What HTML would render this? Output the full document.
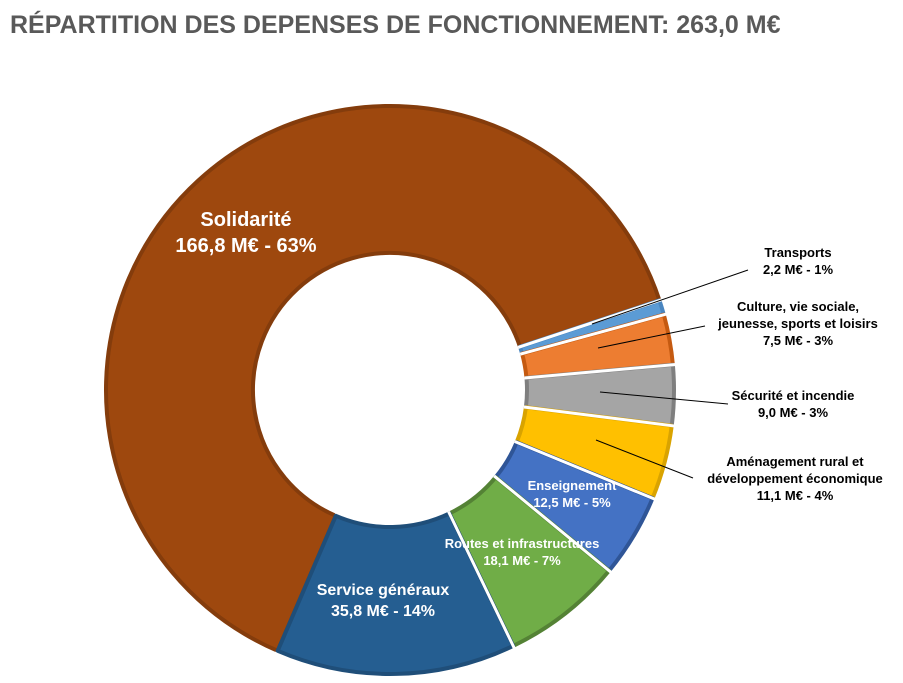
<!DOCTYPE html>
<html><head><meta charset="utf-8"><style>
body{margin:0;background:#fff;}
svg{display:block;font-family:"Liberation Sans",Calibri,sans-serif;}
</style></head><body>
<svg id="chart" width="903" height="683" viewBox="0 0 903 683">
<text x="10" y="33" font-size="25" font-weight="bold" fill="#595959">RÉPARTITION DES DEPENSES DE FONCTIONNEMENT: 263,0 M€</text>
<g id="slices"></g>
<g id="labels"></g>
</svg>
<script>
const categories=["Solidarité","Transports","Culture, vie sociale, jeunesse, sports et loisirs","Sécurité et incendie","Aménagement rural et développement économique","Enseignement","Routes et infrastructures","Service généraux"];
const values=[166.8,2.2,7.5,9.0,11.1,12.5,18.1,35.8];
const valueLabels=["166,8 M€ - 63%","2,2 M€ - 1%","7,5 M€ - 3%","9,0 M€ - 3%","11,1 M€ - 4%","12,5 M€ - 5%","18,1 M€ - 7%","35,8 M€ - 14%"];
const fills=["#9E480E","#5B9BD5","#ED7D31","#A5A5A5","#FFC000","#4472C4","#70AD47","#255E91"];
const strokes=["#843C0C","#4A86C0","#C55A11","#7F7F7F","#D9A300","#2F5597","#548235","#1F4E79"];
const cx=390,cy=390,R=284,r0=137,startDeg=203.3;
const ns="http://www.w3.org/2000/svg";
const total=values.reduce((a,b)=>a+b,0);
function pt(deg,rad){const a=deg*Math.PI/180;return [cx+rad*Math.sin(a),cy-rad*Math.cos(a)];}
const g=document.getElementById('slices');
let acc=startDeg;
values.forEach((v,i)=>{
  const sweep=v/total*360,a0=acc,a1=acc+sweep;acc=a1;
  const large=sweep>180?1:0;
  const p0=pt(a0,R),p1=pt(a1,R),q1=pt(a1,r0),q0=pt(a0,r0);
  const d=`M${p0[0]},${p0[1]} A${R},${R} 0 ${large} 1 ${p1[0]},${p1[1]} L${q1[0]},${q1[1]} A${r0},${r0} 0 ${large} 0 ${q0[0]},${q0[1]} Z`;
  const p=document.createElementNS(ns,'path');
  p.setAttribute('d',d);p.setAttribute('fill',fills[i]);p.setAttribute('stroke',strokes[i]);p.setAttribute('stroke-width','4');p.setAttribute('stroke-linejoin','round');
  
  
  g.appendChild(p);
  const s=document.createElementNS(ns,'path');
  s.setAttribute('d',`M${pt(a0,r0-2).join(',')} L${pt(a0,R+3).join(',')}`);s.setAttribute('stroke','#fff');s.setAttribute('stroke-width','3');
  g.appendChild(s);
});
const L=document.getElementById('labels');
function txt(x,y,lines,size,color){
  const t=document.createElementNS(ns,'text');
  t.setAttribute('x',x);t.setAttribute('y',y);t.setAttribute('text-anchor','middle');t.setAttribute('font-size',size);t.setAttribute('font-weight','bold');t.setAttribute('fill',color);
  
  
  lines.forEach((ln,k)=>{const s=document.createElementNS(ns,'tspan');s.setAttribute('x',x);s.setAttribute('dy',k?size*1.3:0);s.textContent=ln;t.appendChild(s);});
  L.appendChild(t);
}
function line(x1,y1,x2,y2){const l=document.createElementNS(ns,'polyline');l.setAttribute('points',`${x1},${y1} ${x2},${y2}`);l.setAttribute('stroke','#000');l.setAttribute('fill','none');l.setAttribute('stroke-width','1');


L.appendChild(l);}
txt(246,226,[categories[0],valueLabels[0]],20,"#fff");
txt(798,257,["Transports",valueLabels[1]],13,"#000");
line(592,324,748,270);
txt(798,311,["Culture, vie sociale,","jeunesse, sports et loisirs",valueLabels[2]],13,"#000");
line(598,348,705,326);
txt(793,400,[categories[3],valueLabels[3]],13,"#000");
line(600,392,728,404);
txt(795,466,["Aménagement rural et","développement économique",valueLabels[4]],13,"#000");
line(596,440,693,478);
txt(572,490,[categories[5],valueLabels[5]],13,"#fff");
txt(522,548,[categories[6],valueLabels[6]],13,"#fff");
txt(383,595,[categories[7],valueLabels[7]],16,"#fff");
</script>
</body></html>
